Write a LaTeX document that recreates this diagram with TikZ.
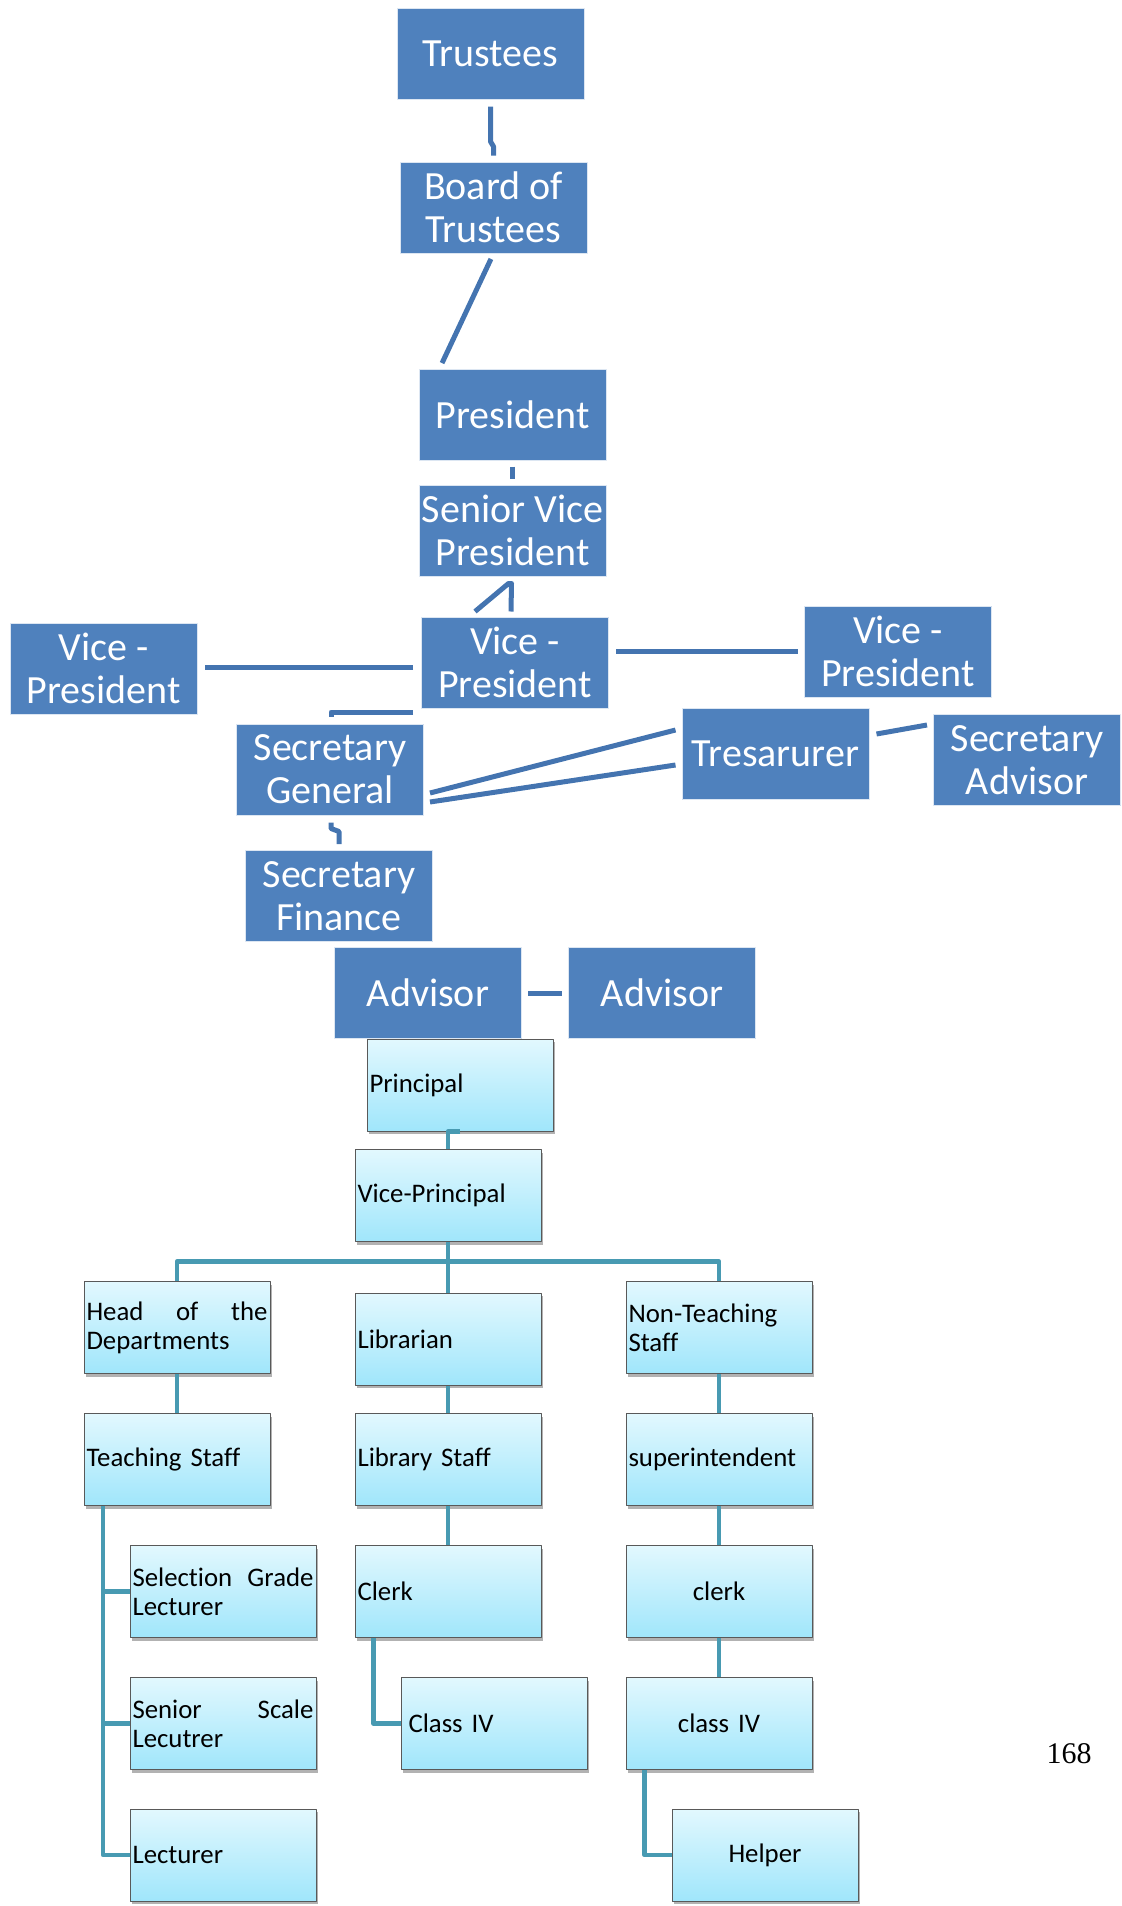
\documentclass[tikz,border=0pt]{standalone}
\usepackage{fontspec}
\setmainfont{Carlito}[Ligatures=NoCommon]
\newfontfamily\pagefont{Liberation Serif}
\usepackage{tikz}
\usetikzlibrary{calc}
\usetikzlibrary{shadows}
\definecolor{boxblue}{RGB}{79,129,189}
\definecolor{lineblue}{RGB}{68,116,176}
\definecolor{skytop}{RGB}{226,248,254}
\definecolor{skybottom}{RGB}{160,230,251}
\definecolor{tealline}{RGB}{72,154,178}

\begin{document}
\begin{tikzpicture}[x=0.5pt,y=-0.5pt,line join=round,
                    blue node/.style={rectangle,fill=boxblue,draw=white!80!boxblue,line width=0.5pt,
                      minimum width=93.5pt,minimum height=45.5pt,inner sep=0pt,text=white,align=center,
                      font=\fontsize{20}{21.5}\selectfont},
                    sky node/.style={rectangle,draw=black!65,line width=0.5pt,top color=skytop,bottom color=skybottom,
                      minimum width=93pt,minimum height=46pt,inner xsep=1.25pt,inner ysep=0pt,
                      text width=90.5pt,align=left,font=\fontsize{13.4}{14.5}\selectfont,
                      drop shadow={shadow xshift=0.8pt,shadow yshift=-1.5pt,opacity=0.3,fill=black}},
                    blue line/.style={draw=lineblue,line width=2.5pt},
                    sky line/.style={draw=tealline,line width=2.3pt}]

		\useasboundingbox (0,0) rectangle (1121,1906);

		% lower tree
		\node[sky node] (principal) at (460,1085) {Principal};
		\node[sky node] (viceprin) at (448,1195.5) {Vice-Principal};
		\node[sky node] (hod) at (177,1327.5) {Head\hfill of\hfill the\\Departments};
		\node[sky node] (librarian) at (448,1339) {Librarian};
		\node[sky node] (nonteach) at (719,1327.5) {Non-Teaching\\Staff};
		\node[sky node] (teaching) at (177,1459.5) {Teaching Staff};
		\node[sky node] (libstaff) at (448,1459.5) {Library Staff};
		\node[sky node] (superint) at (719,1459.5) {superintendent};
		\node[sky node] (selgrade) at (223,1591.5) {Selection\hfill Grade\\Lecturer};
		\node[sky node] (clerka) at (448,1591.5) {Clerk};
		\node[sky node,align=center] (clerkb) at (719,1591.5) {clerk};
		\node[sky node] (senscale) at (223,1723.5) {Senior\hfill Scale\\Lecutrer};
		\node[sky node] (classa) at (494,1723.5) {\hspace*{2.5pt}Class IV};
		\node[sky node,align=center] (classb) at (719,1723.5) {class IV};
		\node[sky node] (lecturer) at (223,1855) {Lecturer};
		\node[sky node,align=center] (helper) at (765,1855) {Helper};

		% upper chart
		\node[blue node] (trustees) at (490.5,53.5) {Trustees};
		\node[blue node] (board) at (493.5,207.5) {Board of\\Trustees};
		\node[blue node] (president) at (512.5,414.5) {President};
		\node[blue node] (srvp) at (512.5,530.5) {Senior Vice\\President};
		\node[blue node] (vpmid) at (515,662.5) {Vice -\\President};
		\node[blue node] (vpleft) at (103.5,668.5) {Vice -\\President};
		\node[blue node] (vpright) at (898,651.5) {Vice -\\President};
		\node[blue node] (secgen) at (330,769.5) {Secretary\\General};
		\node[blue node] (treas) at (775.5,754) {Tresarurer};
		\node[blue node] (secadv) at (1027,760) {Secretary\\Advisor};
		\node[blue node] (secfin) at (339,896) {Secretary\\Finance};
		\node[blue node] (advl) at (428,993) {Advisor};
		\node[blue node] (advr) at (662,993) {Advisor};

		\node[font=\pagefont\fontsize{15}{18}\selectfont] (pagenum) at (1069,1754) {168};

		\draw[blue line,shorten <=3.5pt,shorten >=3pt] (trustees.south) -- ++(0,42) -- ++(3,5) -- (board.north);
		\path[blue line,shorten <=3pt,shorten >=3pt]
		(board.south) edge ($(president.north west)+(21,0)$)
		(president) edge (srvp)
		(advl) edge (advr);
		\draw[blue line] ($(vpmid.north)+(-40,-5)$) -- ($(srvp.south)+(-4,7)$)
		  -- ($(srvp.south)+(-1,7)$) -- ($(vpmid.north)+(-4,-5)$);
		\draw[blue line] ($(vpmid.west)+(-8,5)$) -- ($(vpleft.east)+(7,-1)$);
		\draw[blue line] ($(vpmid.east)+(7,-11)$) -- ($(vpright.west)+(-6,0)$);
		\draw[blue line] ($(vpmid.south west)+(-8,3.5)$) -| ($(secgen.north)+(1,-6.5)$);
		\draw[blue line] ($(secgen.east)+(6,23.5)$) -- ($(treas.west)+(-6,-24)$);
		\draw[blue line] ($(secgen.east)+(6,32.5)$) -- ($(treas.west)+(-6,11)$);
		\draw[blue line] ($(treas.east)+(7,-20)$) -- ($(secadv.west)+(-6,-35)$);
		\draw[blue line] ($(secgen.south)+(1,7)$) -- ++(0,6) -- ++(8,3) -- ($(secfin.north)+(0,-6)$);

		\draw[sky line] (principal.south) -| (viceprin.north);
		\draw[sky line] (viceprin.south) -- (librarian.north);
		\draw[sky line] (hod.north) -- ++(0,-19.5) -| (nonteach.north);
		\path[sky line]
		(hod) edge (teaching)
		(librarian) edge (libstaff)
		(libstaff) edge (clerka)
		(nonteach) edge (superint)
		(superint) edge (clerkb)
		(clerkb) edge (classb);
		\draw[sky line] ($(teaching.south west)+(19.5,0)$) |- (selgrade.west);
		\draw[sky line] ($(teaching.south west)+(19.5,0)$) |- (senscale.west);
		\draw[sky line] ($(teaching.south west)+(19.5,0)$) |- (lecturer.west);
		\draw[sky line] ($(clerka.south west)+(19,0)$) |- (classa.west);
		\draw[sky line] ($(classb.south west)+(19,0)$) |- (helper.west);
	\end{tikzpicture}
\end{document}
